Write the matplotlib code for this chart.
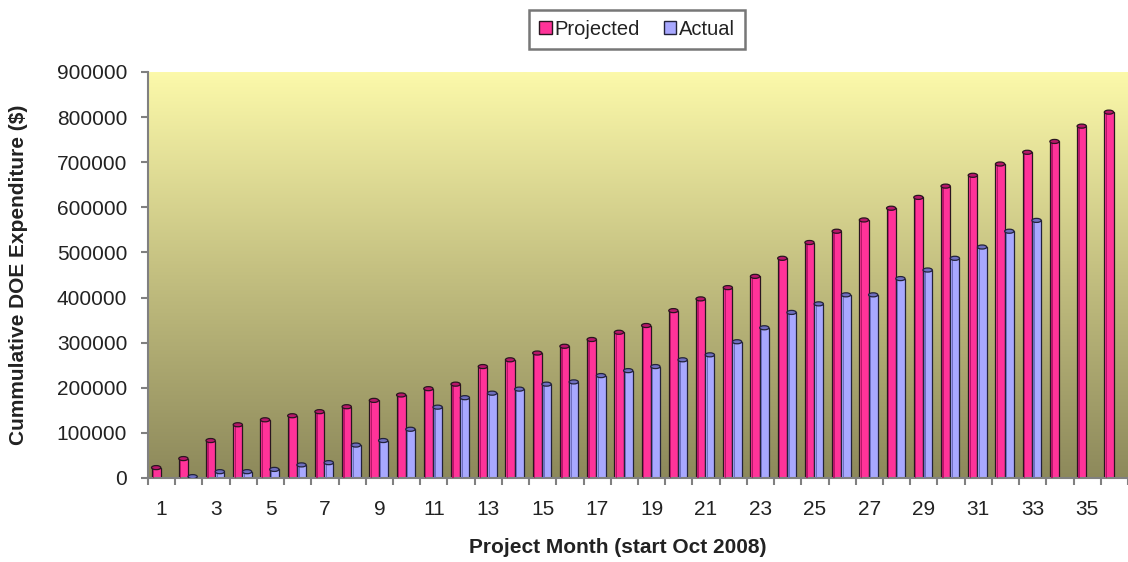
import numpy as np
import matplotlib
matplotlib.use("Agg")
import matplotlib.pyplot as plt
from matplotlib.patches import Ellipse, Patch
from matplotlib.colors import LinearSegmentedColormap

plt.rcParams['font.family'] = ['Liberation Sans', 'DejaVu Sans']

months = list(range(1, 37))
projected = [23000, 43000, 83000, 118000, 129000, 138000, 147000, 158000, 172000,
             184000, 198000, 208000, 247000, 262000, 277000, 292000, 307000, 323000,
             338000, 371000, 397000, 422000, 447000, 487000, 522000, 547000, 572000,
             598000, 622000, 647000, 671000, 696000, 722000, 746000, 780000, 811000]
actual = [0, 3000, 14000, 14000, 19000, 29000, 34000, 73000, 83000, 108000,
          157000, 178000, 188000, 197000, 208000, 213000, 227000, 238000, 247000,
          262000, 273000, 302000, 333000, 367000, 386000, 406000, 406000, 442000,
          461000, 487000, 512000, 547000, 571000]
yticks = [0, 100000, 200000, 300000, 400000, 500000, 600000, 700000, 800000, 900000]
xtick_labels = [str(m) for m in months if m % 2 == 1]

fig = plt.figure(figsize=(11.28, 5.62), dpi=100)
ax = fig.add_axes([0.1312, 0.1495, 0.8688, 0.7224])

# vertical yellow-to-olive gradient behind the bars
grad = LinearSegmentedColormap.from_list('bg', ['#8d895b', '#c3bf80', '#fcf9aa'])
ax.imshow(np.linspace(0, 1, 256).reshape(-1, 1), cmap=grad, origin='lower',
          extent=[0, 1, 0, 1], transform=ax.transAxes, aspect='auto', zorder=0)

w = 0.34
x = np.array(months, dtype=float)
xp = x - w / 2 - 0.03
xa = np.arange(1, len(actual) + 1) + w / 2 - 0.03

def cylinders(xs, vals, face, dark, edge):
    ax.bar(xs, vals, width=w, color=face, edgecolor=edge, linewidth=0.9, zorder=2)
    ax.bar(xs - w * 0.28, vals, width=w * 0.14, color=dark, linewidth=0, zorder=3)
    for xi, v in zip(xs, vals):
        if v > 0:
            ax.add_patch(Ellipse((xi, v), w, 9000, facecolor=dark, edgecolor=edge,
                                 linewidth=0.9, zorder=4))

cylinders(xp, projected, '#ff3399', '#b8166a', '#2a1520')
cylinders(xa, np.array(actual), '#a8a8ff', '#6f6fc0', '#23233a')

ax.set_xlim(0.5, 36.5)
ax.set_ylim(0, 900000)
ax.set_yticks(yticks)
ax.set_yticklabels([str(v) for v in yticks])
ax.set_xticks([m for m in months if m % 2 == 1])
ax.set_xticklabels(xtick_labels)
ax.set_xticks(np.arange(0.5, 37, 1), minor=True)
ax.tick_params(axis='x', which='major', length=0, pad=16, labelsize=15, labelcolor='#222222')
ax.tick_params(axis='x', which='minor', length=5, width=1.5, color='#808080', direction='out')
ax.tick_params(axis='y', length=5, width=1.5, color='#808080', labelsize=15,
               labelcolor='#222222', pad=10)

for s in ['top', 'right']:
    ax.spines[s].set_visible(False)
for s in ['left', 'bottom']:
    ax.spines[s].set_color('#808080')
    ax.spines[s].set_linewidth(1.5)

ax.set_xlabel('Project Month (start Oct 2008)', fontsize=15, fontweight='bold',
              color='#222222')
ax.set_ylabel('Cummulative DOE Expenditure ($)', fontsize=15, fontweight='bold',
              color='#222222')
ax.xaxis.set_label_coords(0.5 + (618 - 638) / 980, -0.147)
ax.yaxis.set_label_coords(-0.1224, 0.5)

handles = [Patch(facecolor='#ff3399', edgecolor='#2a1520', label='Projected'),
           Patch(facecolor='#a8a8ff', edgecolor='#23233a', label='Actual')]
leg = fig.legend(handles=handles, loc='center', bbox_to_anchor=(0.565, 0.948), ncol=2,
                 frameon=True, fancybox=False, fontsize=14.5, handlelength=0.6,
                 handleheight=0.6, handletextpad=0.15, columnspacing=1.2,
                 borderpad=0.5, edgecolor='#555555')
leg.get_frame().set_linewidth(1.8)
for t in leg.get_texts():
    t.set_color('#222222')

fig.savefig('out.png', dpi=100)
